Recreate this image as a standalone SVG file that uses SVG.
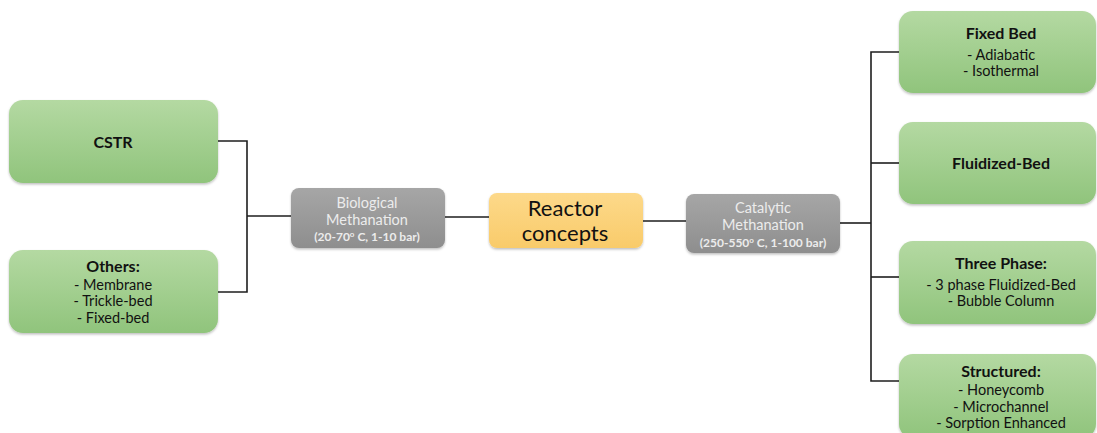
<svg xmlns="http://www.w3.org/2000/svg" width="1097" height="433" viewBox="0 0 1097 433">
<defs>
<linearGradient id="g" x1="0" y1="0" x2="0" y2="1"><stop offset="0" stop-color="#b4d9a2"/><stop offset="1" stop-color="#90c47c"/></linearGradient>
<linearGradient id="gr" x1="0" y1="0" x2="0" y2="1"><stop offset="0" stop-color="#a6a6a6"/><stop offset="1" stop-color="#8e8e8e"/></linearGradient>
<linearGradient id="y" x1="0" y1="0" x2="0" y2="1"><stop offset="0" stop-color="#fdd98a"/><stop offset="1" stop-color="#f9cb6a"/></linearGradient>
<filter id="sh" x="-10%" y="-10%" width="120%" height="130%"><feDropShadow dx="0" dy="1.5" stdDeviation="1.2" flood-color="#000" flood-opacity="0.25"/></filter>
<style>
.gb{fill:url(#g);filter:url(#sh)}
.gy{fill:url(#gr);filter:url(#sh)}
.yb{fill:url(#y);filter:url(#sh)}
text{font-family:Lato,"Open Sans","Liberation Sans",sans-serif;text-anchor:middle;fill:#111}
.t{font-weight:bold;font-size:16px}
.i{font-size:14.5px}
.w{fill:#ececec;font-size:14.5px}
.ws{fill:#ececec;font-size:12px;font-weight:bold}
.c{fill:none;stroke:#1e1e1e;stroke-width:1.6}
</style>
</defs>
<g id="connectors">
<polyline class="c" points="218,141 247,141 247,292 218,292"/>
<line class="c" x1="247" y1="216" x2="291" y2="216"/>
<line class="c" x1="445" y1="217" x2="489" y2="217"/>
<line class="c" x1="643" y1="221" x2="686" y2="221"/>
<line class="c" x1="840" y1="223" x2="871" y2="223"/>
<polyline class="c" points="899,52 871,52 871,381 899,381"/>
<line class="c" x1="871" y1="163" x2="899" y2="163"/>
<line class="c" x1="871" y1="277" x2="899" y2="277"/>
</g>
<g id="cstr"><rect class="gb" x="9" y="100" width="209" height="83" rx="14"/><text class="t" x="113" y="148" font-size="18">CSTR</text></g>
<g id="others"><rect class="gb" x="9" y="250" width="209" height="83" rx="14"/>
<text class="t" x="113" y="272">Others:</text>
<text class="i" x="113" y="290">- Membrane</text>
<text class="i" x="113" y="306">- Trickle-bed</text>
<text class="i" x="113" y="323">- Fixed-bed</text></g>
<g id="bio"><rect class="gy" x="291" y="188" width="154" height="60" rx="8"/>
<text class="w" x="367" y="208">Biological</text>
<text class="w" x="367" y="225">Methanation</text>
<text class="ws" x="367" y="241">(20-70<tspan font-size="8" dy="-4">o</tspan><tspan dy="4"> C, 1-10 bar)</tspan></text></g>
<g id="reactor"><rect class="yb" x="489" y="193" width="154" height="55" rx="8"/>
<text x="565" y="216" font-size="22">Reactor</text>
<text x="565" y="241" font-size="22">concepts</text></g>
<g id="catalytic"><rect class="gy" x="686" y="194" width="154" height="59" rx="8"/>
<text class="w" x="763" y="213">Catalytic</text>
<text class="w" x="763" y="230">Methanation</text>
<text class="ws" x="763" y="247">(250-550<tspan font-size="8" dy="-4">o</tspan><tspan dy="4"> C, 1-100 bar)</tspan></text></g>
<g id="fixed"><rect class="gb" x="899" y="11" width="197" height="82" rx="14"/>
<text class="t" x="1001" y="39">Fixed Bed</text>
<text class="i" x="1001" y="60">- Adiabatic</text>
<text class="i" x="1001" y="76">- Isothermal</text></g>
<g id="fluid"><rect class="gb" x="899" y="122" width="197" height="82" rx="14"/>
<text class="t" x="1001" y="169">Fluidized-Bed</text></g>
<g id="three"><rect class="gb" x="899" y="241" width="197" height="83" rx="14"/>
<text class="t" x="1001" y="269">Three Phase:</text>
<text class="i" x="1001" y="290">- 3 phase Fluidized-Bed</text>
<text class="i" x="1001" y="306">- Bubble Column</text></g>
<g id="structured"><rect class="gb" x="899" y="354" width="197" height="84" rx="14"/>
<text class="t" x="1001" y="377">Structured:</text>
<text class="i" x="1001" y="395">- Honeycomb</text>
<text class="i" x="1001" y="412">- Microchannel</text>
<text class="i" x="1001" y="428">- Sorption Enhanced</text></g>
</svg>
